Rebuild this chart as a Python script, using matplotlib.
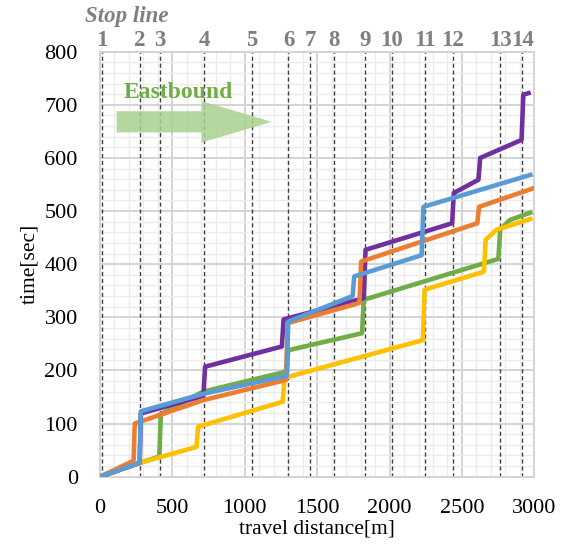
import matplotlib.pyplot as plt
from matplotlib.patches import FancyArrow
from matplotlib.ticker import MultipleLocator

plt.rcParams['font.family'] = ['Liberation Serif', 'DejaVu Serif']

# stop line positions [m]
stop_names = ["1", "2", "3", "4", "5", "6", "7", "8", "9", "10", "11", "12", "13", "14"]
stop_pos = [12, 276, 415, 721, 1049, 1302, 1452, 1613, 1832, 2016, 2246, 2438, 2765, 2915]

# vehicle trajectories: distance [m] / time [sec]
blue_d = [0, 274, 282, 714, 1256, 1290, 1300, 1745, 1756, 2222, 2234, 2972]
blue_t = [0, 26, 123, 156, 188, 190, 292, 340, 377, 417, 508, 568]

orange_d = [0, 232, 240, 712, 1284, 1296, 1792, 1804, 2606, 2618, 2995]
orange_t = [0, 30, 100, 144, 182, 289, 327, 405, 477, 508, 543]

green_d = [0, 276, 410, 420, 712, 1290, 1300, 1810, 1822, 2752, 2764, 2830, 2972]
green_t = [0, 26, 38, 118, 160, 198, 238, 270, 333, 410, 465, 483, 497]

yellow_d = [0, 276, 666, 678, 1262, 1274, 2230, 2242, 2652, 2664, 2740, 2972]
yellow_t = [0, 26, 56, 94, 141, 186, 257, 352, 386, 446, 465, 485]

purple_d = [0, 274, 282, 714, 726, 1256, 1268, 1822, 1834, 2432, 2444, 2614, 2626, 2912, 2924, 2960]
purple_t = [0, 26, 119, 152, 207, 245, 296, 336, 427, 477, 534, 559, 600, 634, 719, 722]

fig = plt.figure(figsize=(5.65, 5.46), dpi=100)
ax = fig.add_axes([0.177, 0.127, 0.7687, 0.7783])

ax.set_xlim(0, 3000)
ax.set_ylim(0, 800)
ax.xaxis.set_major_locator(MultipleLocator(500))
ax.xaxis.set_minor_locator(MultipleLocator(100))
ax.yaxis.set_major_locator(MultipleLocator(100))
ax.yaxis.set_minor_locator(MultipleLocator(20))
ax.grid(which='minor', color='#ececec', lw=1.0, zorder=0)
ax.grid(which='major', color='#d4d4d4', lw=1.4, zorder=0)
ax.set_axisbelow(True)
ax.tick_params(which='both', length=0, labelsize=16, pad=16)
for s in ax.spines.values():
    s.set_color('#d4d4d4')
    s.set_linewidth(1.4)

# stop lines with labels on top
for name, x in zip(stop_names, stop_pos):
    ax.axvline(x, color='#404040', lw=1.0, ls=(0, (3, 2)), zorder=1)
    ax.text(x, 1.027, name, transform=ax.get_xaxis_transform(), ha='center', va='center',
            fontsize=16.5, fontweight='bold', color='#7f7f7f')
ax.text(-0.035, 1.084, "Stop line", transform=ax.transAxes, ha='left', va='center',
        fontsize=16.5, fontweight='bold', fontstyle='italic', color='#7f7f7f')

# direction arrow
ax.add_patch(FancyArrow(115, 668, 1071, 0, width=40, head_width=78, head_length=484,
                        length_includes_head=True, color='#A9D18E', alpha=0.85, lw=0, zorder=2))
ax.text(540, 724, "Eastbound", ha='center', va='center', fontsize=17,
        fontweight='bold', color='#70AD47', zorder=3)

lw = 3.3
ax.plot(green_d, green_t, color='#70AD47', lw=lw, zorder=3)
ax.plot(yellow_d, yellow_t, color='#FFC000', lw=lw, zorder=3)
ax.plot(purple_d, purple_t, color='#7030A0', lw=lw, zorder=3)
ax.plot(orange_d, orange_t, color='#ED7D31', lw=lw, zorder=3)
ax.plot(blue_d, blue_t, color='#5B9BD5', lw=lw, zorder=3)

ax.set_xlabel("travel distance[m]", fontsize=15.5, labelpad=1)
ax.set_ylabel("time[sec]", fontsize=15.5, labelpad=4)

fig.savefig("out.png", dpi=100)
